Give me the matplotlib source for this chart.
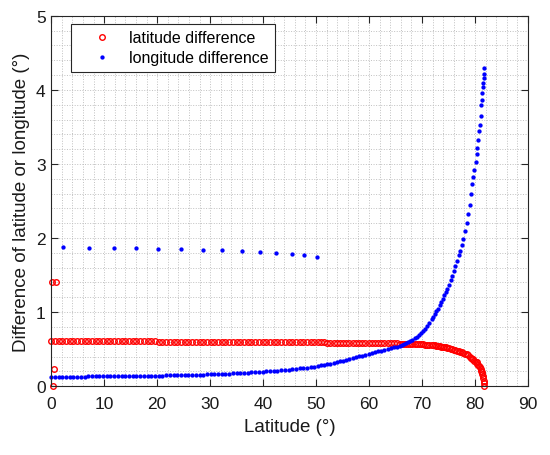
import matplotlib
matplotlib.use('Agg')
import matplotlib.pyplot as plt
from matplotlib.ticker import MultipleLocator

plt.rcParams['font.family'] = ['Liberation Sans', 'DejaVu Sans']

# latitude grid of the dense samples (deg)
lat = [0, 0.7, 1.4, 2.1, 2.8, 3.5, 4.2, 4.9, 5.6, 6.3,
       7, 7.7, 8.4, 9.1, 9.8, 10.5, 11.2, 11.9, 12.6, 13.3,
       14, 14.7, 15.4, 16.1, 16.8, 17.5, 18.2, 18.9, 19.6, 20.3,
       21, 21.7, 22.4, 23.1, 23.8, 24.5, 25.2, 25.9, 26.6, 27.3,
       28, 28.7, 29.4, 30.1, 30.8, 31.5, 32.2, 32.9, 33.6, 34.3,
       35, 35.7, 36.4, 37.1, 37.8, 38.5, 39.2, 39.9, 40.6, 41.3,
       42, 42.7, 43.4, 44.1, 44.8, 45.5, 46.2, 46.9, 47.6, 48.3,
       49, 49.7,
       50.3, 50.9, 51.5, 52.1, 52.7, 53.3, 53.9, 54.5, 55.1, 55.7,
       56.3, 56.9, 57.5, 58.1, 58.7, 59.3, 59.9, 60.5, 61.1, 61.7,
       62.3, 62.9, 63.5, 64.1, 64.7, 65.3,
       65.8, 66.2, 66.6, 67.0, 67.4, 67.8, 68.2, 68.6, 69.0, 69.4,
       69.8, 70.2, 70.6, 71.0, 71.4, 71.8,
       72.1, 72.4, 72.7, 73.0, 73.3, 73.6, 73.9, 74.2, 74.5, 74.8,
       75.1, 75.4, 75.7, 76.0, 76.3, 76.6, 76.9, 77.2, 77.5, 77.8,
       78.1, 78.4, 78.7, 79.0, 79.25, 79.5, 79.7, 79.9, 80.1, 80.3,
       80.45, 80.6, 80.75, 80.9, 81.05, 81.2, 81.3, 81.4, 81.5, 81.58,
       81.64, 81.68, 81.7]

lon_diff = [0.130, 0.130, 0.130, 0.130, 0.130, 0.130, 0.130, 0.130, 0.130, 0.130,
            0.131, 0.131, 0.132, 0.132, 0.133, 0.133, 0.134, 0.134, 0.135, 0.135,
            0.136, 0.136, 0.137, 0.137, 0.138, 0.139, 0.139, 0.140, 0.141, 0.142,
            0.143, 0.144, 0.145, 0.146, 0.147, 0.148, 0.149, 0.150, 0.152, 0.153,
            0.155, 0.156, 0.158, 0.160, 0.162, 0.164, 0.166, 0.168, 0.170, 0.172,
            0.175, 0.177, 0.180, 0.183, 0.186, 0.189, 0.192, 0.195, 0.199, 0.203,
            0.207, 0.211, 0.215, 0.219, 0.224, 0.229, 0.234, 0.239, 0.245, 0.251,
            0.257, 0.263,
            0.273, 0.280, 0.288, 0.296, 0.305, 0.314, 0.323, 0.333, 0.343, 0.354,
            0.365, 0.377, 0.389, 0.401, 0.413, 0.425, 0.437, 0.448, 0.459, 0.470,
            0.480, 0.491, 0.501, 0.512, 0.523, 0.535,
            0.545, 0.555, 0.565, 0.578, 0.590, 0.605, 0.623, 0.645, 0.668, 0.690,
            0.715, 0.745, 0.778, 0.815, 0.858, 0.903,
            0.94, 0.975, 1.01, 1.045, 1.09, 1.135, 1.18, 1.225, 1.265, 1.31,
            1.37, 1.43, 1.49, 1.555, 1.62, 1.695, 1.765, 1.83, 1.91, 1.99,
            2.09, 2.20, 2.32, 2.45, 2.59, 2.73, 2.83, 2.92, 3.02, 3.14,
            3.22, 3.32, 3.44, 3.53, 3.65, 3.79, 3.87, 3.96, 4.04, 4.10,
            4.16, 4.22, 4.29]

lat_diff = [0.605, 0.605, 0.605, 0.605, 0.605, 0.605, 0.605, 0.605, 0.605, 0.605,
            0.605, 0.605, 0.605, 0.605, 0.605, 0.605, 0.605, 0.605, 0.605, 0.605,
            0.605, 0.605, 0.605, 0.605, 0.605, 0.605, 0.605, 0.605, 0.605, 0.595,
            0.595, 0.595, 0.595, 0.595, 0.595, 0.595, 0.595, 0.595, 0.595, 0.595,
            0.595, 0.595, 0.595, 0.595, 0.595, 0.595, 0.595, 0.595, 0.595, 0.595,
            0.595, 0.595, 0.595, 0.595, 0.595, 0.595, 0.595, 0.595, 0.595, 0.595,
            0.595, 0.595, 0.595, 0.595, 0.595, 0.595, 0.595, 0.595, 0.595, 0.595,
            0.595, 0.595,
            0.595, 0.595, 0.595, 0.585, 0.585, 0.585, 0.585, 0.585, 0.585, 0.585,
            0.585, 0.585, 0.585, 0.585, 0.585, 0.585, 0.585, 0.583, 0.582, 0.581,
            0.580, 0.580, 0.579, 0.578, 0.577, 0.576,
            0.575, 0.575, 0.574, 0.573, 0.572, 0.571, 0.570, 0.569, 0.568, 0.567,
            0.565, 0.563, 0.561, 0.559, 0.556, 0.553,
            0.552, 0.549, 0.546, 0.543, 0.539, 0.535, 0.531, 0.527, 0.522, 0.517,
            0.512, 0.506, 0.500, 0.494, 0.487, 0.480, 0.473, 0.465, 0.457, 0.448,
            0.44, 0.43, 0.415, 0.40, 0.385, 0.37, 0.36, 0.345, 0.33, 0.32,
            0.305, 0.29, 0.275, 0.255, 0.235, 0.21, 0.19, 0.165, 0.135, 0.105,
            0.075, 0.04, 0.0]

# isolated samples
lat_extra_x = [0.2, 0.95, 0.55, 0.3]
lat_extra_y = [1.40, 1.40, 0.23, 0.0]
lon_extra_x = [2.2, 7.1, 11.9, 16.1, 20.2, 24.5, 28.7, 32.3, 36.0, 39.4, 42.5, 45.5, 47.8, 50.1]
lon_extra_y = [1.874, 1.869, 1.865, 1.86, 1.855, 1.85, 1.845, 1.838, 1.83, 1.815, 1.80, 1.78, 1.77, 1.75]

fig = plt.figure(figsize=(5.5, 4.56), dpi=100)
ax = fig.add_axes([0.093, 0.151, 0.867, 0.812])

red_kw = dict(linestyle='none', marker='o', ms=4.0, mfc='none', mec='#ff0000', mew=1.0, clip_on=False)
blue_kw = dict(linestyle='none', marker='o', ms=3.1, mfc='#0000ff', mec='none', clip_on=False)

ax.plot(lat, lat_diff, label='latitude difference', **red_kw)
ax.plot(lat_extra_x, lat_extra_y, **red_kw)
ax.plot(lat, lon_diff, label='longitude difference', **blue_kw)
ax.plot(lon_extra_x, lon_extra_y, **blue_kw)

ax.set_xlim(0, 90)
ax.set_ylim(0, 5)
ax.xaxis.set_major_locator(MultipleLocator(10))
ax.yaxis.set_major_locator(MultipleLocator(1))
ax.xaxis.set_minor_locator(MultipleLocator(2))
ax.yaxis.set_minor_locator(MultipleLocator(0.2))
ax.grid(True, which='both', linestyle=':', color='#c0c0c0', linewidth=0.7)
ax.set_axisbelow(True)
ax.tick_params(which='major', direction='in', top=True, right=True, length=5,
               width=0.8, labelsize=12.5, color='#262626', labelcolor='#1a1a1a')
ax.tick_params(axis='x', which='major', pad=7)
ax.tick_params(axis='y', which='major', pad=4)
ax.tick_params(which='minor', length=0)
for s in ax.spines.values():
    s.set_color('#262626')
    s.set_linewidth(0.8)

ax.set_xlabel('Latitude (°)', fontsize=13.5, color='#1a1a1a', labelpad=5)
ax.set_ylabel('Difference of latitude or longitude (°)', fontsize=13.5, color='#1a1a1a', labelpad=4)

leg = ax.legend(loc='upper left', bbox_to_anchor=(0.042, 0.978), borderaxespad=0,
                fontsize=11.5, fancybox=False, framealpha=1, edgecolor='#262626',
                handlelength=3.0, handletextpad=0.2, borderpad=0.4, labelspacing=0.3)
leg.get_frame().set_linewidth(0.8)

fig.savefig('out.png', dpi=100)
